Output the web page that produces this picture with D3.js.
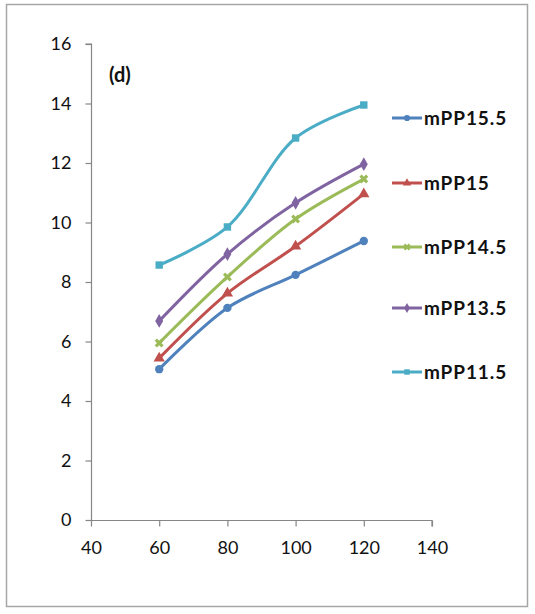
<!DOCTYPE html>
<html>
<head>
<meta charset="utf-8">
<script src="https://cdn.jsdelivr.net/npm/d3@7"></script>
<style>
  body { margin: 0; background: #fff; }
  svg { display: block; }
  text { font-family: Lato, "Open Sans", sans-serif; }
</style>
</head>
<body>
<svg id="chart"></svg>
<script>
const X_VALUES = [60, 80, 100, 120];
const SERIES_NAMES = ['mPP15.5', 'mPP15', 'mPP14.5', 'mPP13.5', 'mPP11.5'];
const MPP155 = [5.07, 7.13, 8.24, 9.38];
const MPP15 = [5.44, 7.62, 9.2, 10.96];
const MPP145 = [5.95, 8.17, 10.12, 11.46];
const MPP135 = [6.69, 8.94, 10.66, 11.96];
const MPP115 = [8.57, 9.85, 12.84, 13.95];
const X_TICKS = [40, 60, 80, 100, 120, 140];
const Y_TICKS = [0, 2, 4, 6, 8, 10, 12, 14, 16];

const COLORS = ['#4F81BD', '#C0504D', '#9BBB59', '#8064A2', '#4BACC6'];
const SYMBOLS = [d3.symbolCircle, d3.symbolTriangle, d3.symbolCross, d3.symbolDiamond, d3.symbolSquare];

const WIDTH = 535;
const HEIGHT = 614;

const series = [MPP155, MPP15, MPP145, MPP135, MPP115].map((vals, i) => ({
  name: SERIES_NAMES[i],
  color: COLORS[i],
  symbol: SYMBOLS[i],
  points: vals.map((v, j) => ({ x: X_VALUES[j], y: v }))
}));

const svg = d3.select('#chart')
              .attr('width', WIDTH)
              .attr('height', HEIGHT);

// outer frame
svg.append('rect')
   .attr('x', 6.5).attr('y', 4.5)
   .attr('width', 521).attr('height', 602)
   .attr('fill', '#fff')
   .attr('stroke', '#a6a6a6')
   .attr('stroke-width', 1.5);

const x = d3.scaleLinear().domain([40, 140]).range([91, 432]);
const y = d3.scaleLinear().domain([0, 16]).range([520, 44]);

const axisColor = '#868686';

const yAxis = svg.append('g')
  .attr('transform', 'translate(91.5,0)')
  .call(d3.axisLeft(y).tickValues(Y_TICKS).tickSize(6).tickPadding(14));

const xAxis = svg.append('g')
  .attr('transform', 'translate(0,520.5)')
  .call(d3.axisBottom(x).tickValues(X_TICKS).tickSize(6).tickPadding(15));

[yAxis, xAxis].forEach(ax => {
  ax.select('.domain').attr('stroke', axisColor).attr('stroke-width', 1.2);
  ax.selectAll('.tick line').attr('stroke', axisColor).attr('stroke-width', 1.2);
  ax.selectAll('.tick text')
    .attr('fill', '#111')
    .style('font-size', '18px')
    .style('font-family', 'Lato, "Open Sans", sans-serif');
});

// excel-like axis lines, no end caps
yAxis.select('.domain').attr('d', `M-6,${y(16)}H0V${y(0)}`);
xAxis.select('.domain').attr('d', `M${x(40)},0H${x(140)}V6`);

svg.append('text')
   .attr('x', 109).attr('y', 82)
   .attr('font-size', '20px')
   .attr('font-weight', 'bold')
   .attr('fill', '#111')
   .text('(d)');

const line = d3.line()
               .x(d => x(d.x))
               .y(d => y(d.y))
               .curve(d3.curveCatmullRom.alpha(0.5));

const g = svg.append('g');
series.forEach(s => {
  g.append('path')
   .attr('d', line(s.points))
   .attr('fill', 'none')
   .attr('stroke', s.color)
   .attr('stroke-width', 3);

  g.selectAll(null)
   .data(s.points)
   .enter().append('path')
   .attr('transform', d => `translate(${x(d.x)},${y(d.y)})` + (s.symbol === d3.symbolCross ? 'rotate(45)' : ''))
   .attr('d', d3.symbol().type(s.symbol).size(s.symbol === d3.symbolCross ? 50 : 55))
   .attr('fill', s.color);
});

// legend
const legendY = [118, 183, 247, 308, 372];
const legend = svg.append('g');
series.forEach((s, i) => {
  const ly = legendY[i];
  legend.append('line')
        .attr('x1', 392).attr('x2', 422)
        .attr('y1', ly).attr('y2', ly)
        .attr('stroke', s.color)
        .attr('stroke-width', 3);
  legend.append('path')
        .attr('transform', `translate(407,${ly})` + (s.symbol === d3.symbolCross ? 'rotate(45)' : ''))
        .attr('d', d3.symbol().type(s.symbol).size(30))
        .attr('fill', s.color);
  legend.append('text')
        .attr('x', 424).attr('y', ly + 7)
        .attr('font-size', '19px')
        .attr('font-weight', 'bold')
        .attr('letter-spacing', '0.9px')
        .attr('fill', '#111')
        .text(s.name);
});
</script>
</body>
</html>
